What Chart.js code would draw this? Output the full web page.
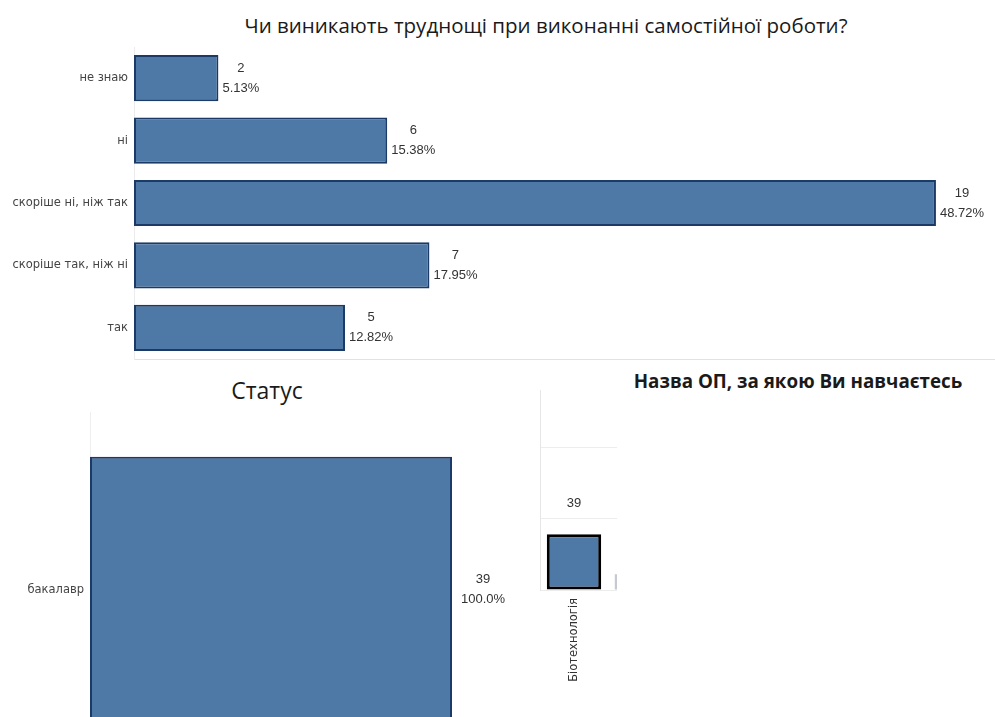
<!DOCTYPE html>
<html>
<head>
<meta charset="utf-8">
<script src="https://cdn.jsdelivr.net/npm/chart.js@4.4.1/dist/chart.umd.min.js"></script>
<style>
  body { margin: 0; width: 995px; height: 717px; overflow: hidden; background: #fff; position: relative; }
  .box { position: absolute; }
  .ttl { position: absolute; white-space: nowrap; transform: translate(-50%, -50%); color: #1a1a1a; font-family: "Open Sans", sans-serif; }
  #clip { position: absolute; left: 539px; top: 385px; width: 78px; height: 320px; overflow: hidden; }
</style>
</head>
<body>
<div class="ttl" style="left:546px; top:25px; font-size:20.5px;">Чи виникають труднощі при виконанні самостійної роботи?</div>
<div class="ttl" style="left:267px; top:390px; font-size:23px;">Статус</div>
<div class="ttl" style="left:798px; top:381px; font-size:18.8px; font-weight:bold;">Назва ОП, за якою Ви навчаєтесь</div>

<canvas id="difficulty" class="box" width="995" height="363" style="left:0; top:0;"></canvas>
<canvas id="status" class="box" width="530" height="399" style="left:0; top:370px;"></canvas>
<div id="clip"><canvas id="program" width="137" height="325"></canvas></div>

<script>
// Чи виникають труднощі при виконанні самостійної роботи?
const diffLabels = ['не знаю', 'ні', 'скоріше ні, ніж так', 'скоріше так, ніж ні', 'так'];
const diffCounts = [2, 6, 19, 7, 5];
const diffPercents = ['5.13%', '15.38%', '48.72%', '17.95%', '12.82%'];

// Статус
const statusLabels = ['бакалавр'];
const statusCounts = [39];
const statusPercents = ['100.0%'];

// Назва ОП
const progLabels = ['Біотехнологія', ''];
const progCounts = [39, 11];

const FILL = '#4E79A7';
const EDGE = '#1B3A66';

// draws count / percent next to each bar, positioned from the bar elements
const valueLabels = {
  id: 'valueLabels',
  afterDatasetsDraw(chart, args, opts) {
    if (!opts.lines) return;
    const ctx = chart.ctx;
    const meta = chart.getDatasetMeta(0);
    ctx.save();
    ctx.font = '13px "Liberation Sans", Arial, sans-serif';
    ctx.fillStyle = '#333';
    ctx.textAlign = 'center';
    ctx.textBaseline = 'middle';
    meta.data.forEach((bar, i) => {
      const lines = opts.lines(i);
      if (opts.vertical) {
        ctx.fillText(lines[0], bar.x, bar.y - opts.above);
        return;
      }
      const w = Math.max(...lines.map(t => ctx.measureText(t).width));
      const cx = bar.x + opts.gap + w / 2;
      lines.forEach((t, k) => ctx.fillText(t, cx, bar.y + opts.dy[k]));
    });
    ctx.restore();
  }
};
Chart.register(valueLabels);

const tickFont = { family: '"DejaVu Sans", sans-serif', size: 11.5 };

// fixed axis width, and no extra room for half-labels at the ends
const fixWidth = w => s => { s.width = w; s.paddingTop = 0; s.paddingBottom = 0; };

new Chart(document.getElementById('difficulty'), {
  type: 'bar',
  data: {
    labels: diffLabels,
    datasets: [{
      data: diffCounts,
      backgroundColor: FILL,
      borderColor: EDGE,
      borderWidth: 2,
      borderSkipped: false,
      categoryPercentage: 1,
      barPercentage: 0.74
    }]
  },
  options: {
    indexAxis: 'y',
    responsive: false,
    animation: false,
    layout: { padding: { top: 47, left: 0, right: 0, bottom: 4 } },
    plugins: {
      legend: { display: false },
      tooltip: { enabled: false },
      valueLabels: { lines: i => [String(diffCounts[i]), diffPercents[i]], gap: 4, dy: [-10, 10] }
    },
    scales: {
      x: {
        min: 0, max: 20.4,
        afterFit: s => { s.height = 0; },
        ticks: { display: false },
        grid: { display: false, drawTicks: false },
        border: { color: '#e2e2e2' }
      },
      y: {
        afterFit: fixWidth(134),
        ticks: { font: tickFont, color: '#444', padding: 6 },
        grid: { display: false, drawTicks: false },
        border: { color: '#ececec' }
      }
    }
  }
});

new Chart(document.getElementById('status'), {
  type: 'bar',
  data: {
    labels: statusLabels,
    datasets: [{
      data: statusCounts,
      backgroundColor: FILL,
      borderColor: EDGE,
      borderWidth: 2,
      borderSkipped: false,
      categoryPercentage: 1,
      barPercentage: 0.75
    }]
  },
  options: {
    indexAxis: 'y',
    responsive: false,
    animation: false,
    layout: { padding: { top: 42, left: 0, right: 0, bottom: 0 } },
    plugins: {
      legend: { display: false },
      tooltip: { enabled: false },
      valueLabels: { lines: i => [String(statusCounts[i]), statusPercents[i]], gap: 9, dy: [-11, 9] }
    },
    scales: {
      x: { display: false, min: 0, max: 47.4 },
      y: {
        afterFit: fixWidth(90),
        ticks: { font: tickFont, color: '#444', padding: 6 },
        grid: { display: false, drawTicks: false },
        border: { color: '#eeeeee' }
      }
    }
  }
});

new Chart(document.getElementById('program'), {
  type: 'bar',
  data: {
    labels: progLabels,
    datasets: [{
      data: progCounts,
      backgroundColor: [FILL, '#c5cad2'],
      borderColor: ['#000000', '#c5cad2'],
      borderWidth: [3, 0],
      borderSkipped: false,
      categoryPercentage: 1,
      barPercentage: 0.8
    }]
  },
  options: {
    responsive: false,
    animation: false,
    layout: { padding: { top: 5, left: 1, right: 0, bottom: 0 } },
    plugins: {
      legend: { display: false },
      tooltip: { enabled: false },
      valueLabels: { lines: i => [String(progCounts[i])], vertical: true, above: 31 }
    },
    scales: {
      x: {
        afterFit: s => { s.height = 120; },
        ticks: { font: tickFont, color: '#333', minRotation: 90, maxRotation: 90, autoSkip: false, padding: 8 },
        grid: { display: false, drawTicks: false },
        border: { color: '#ececec' }
      },
      y: {
        min: 0, max: 140,
        afterFit: s => { s.width = 0; },
        ticks: { display: false, stepSize: 50 },
        grid: { drawTicks: false, color: c => (c.tick && c.tick.value % 50 === 0 && c.tick.value > 0) ? '#ededed' : 'rgba(0,0,0,0)' },
        border: { color: '#e6e6e6' }
      }
    }
  }
});
</script>
</body>
</html>
